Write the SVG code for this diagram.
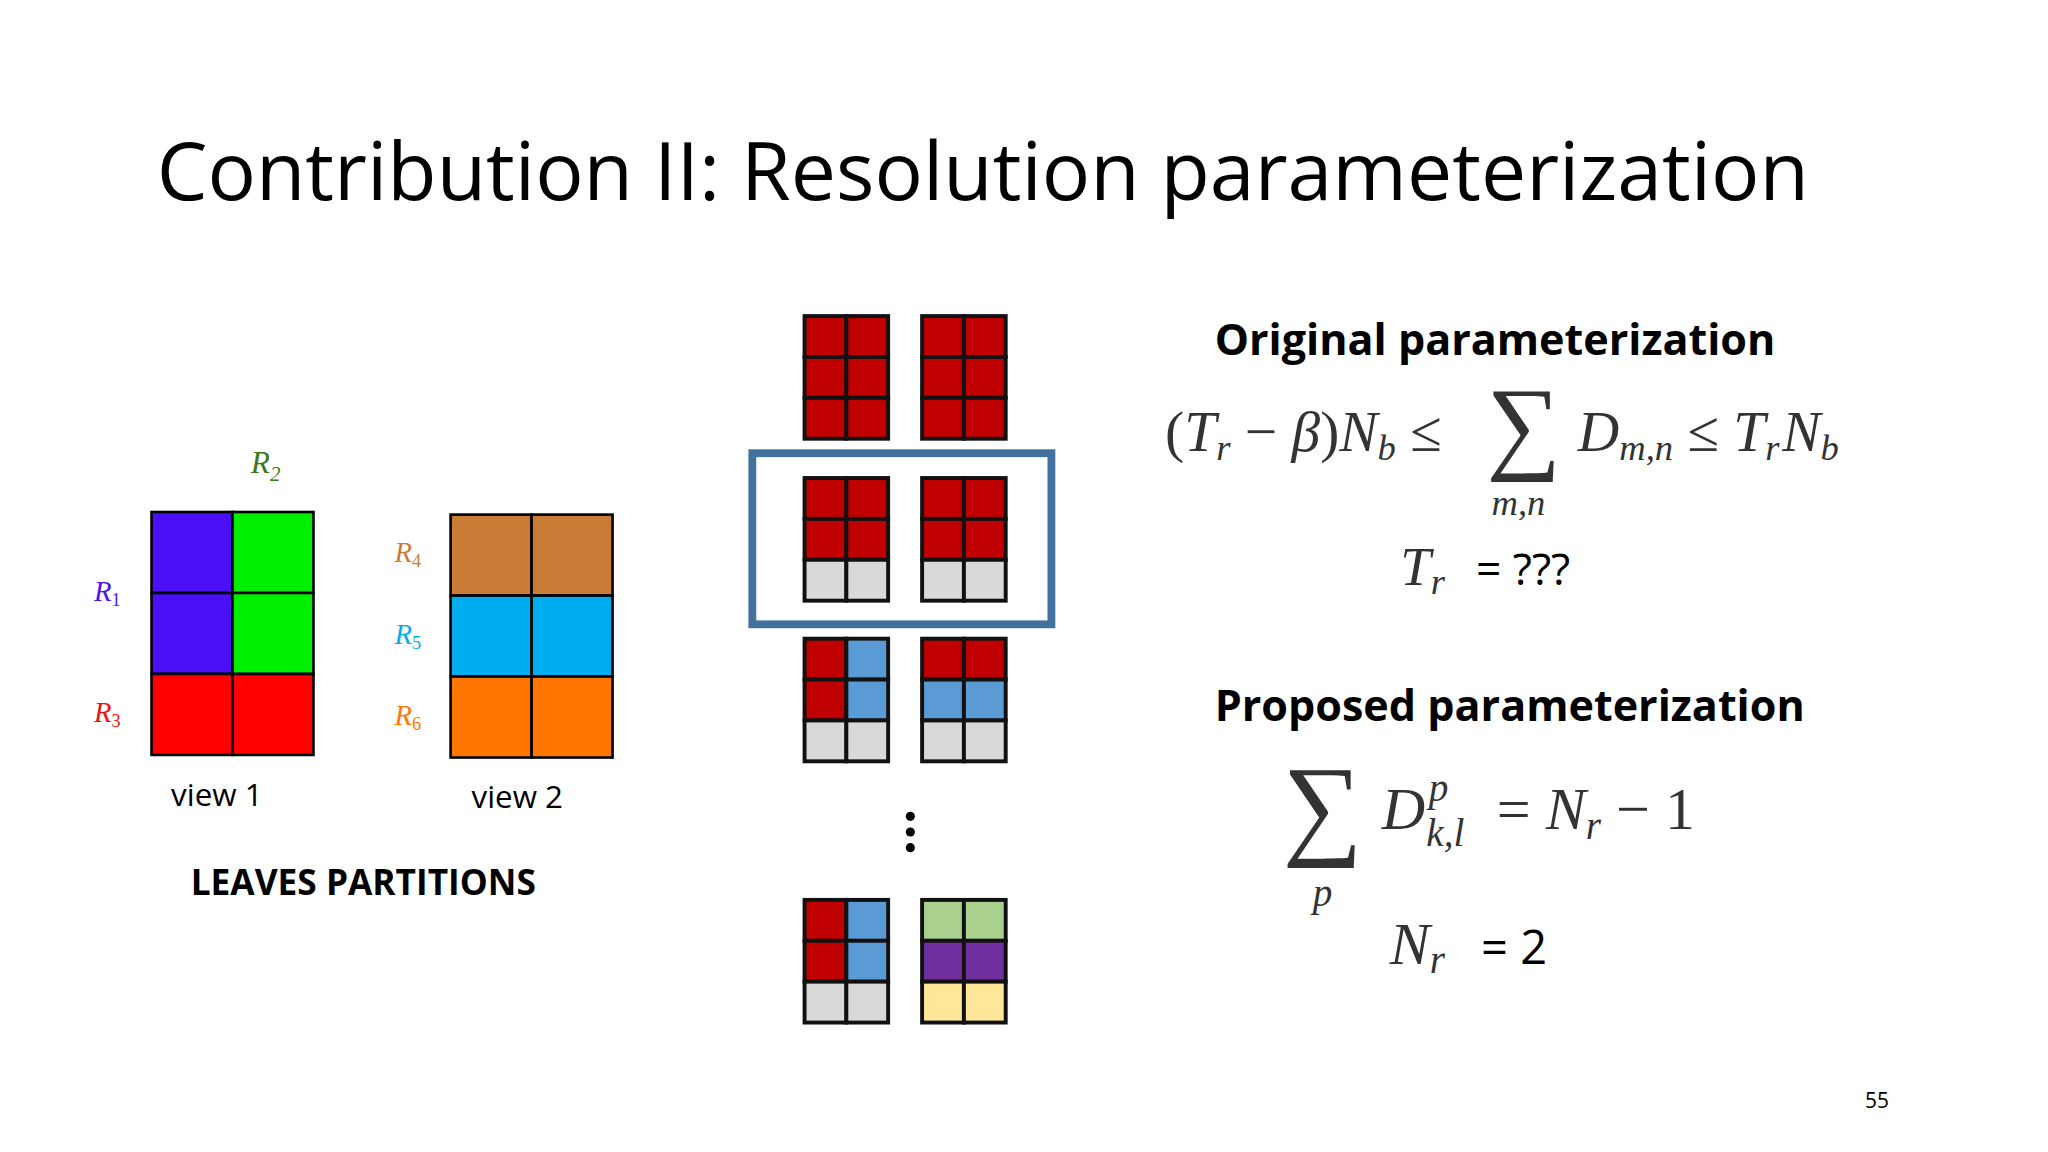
<svg xmlns="http://www.w3.org/2000/svg" width="2048" height="1152" viewBox="0 0 2048 1152">
<style>
.m{font-family:"Liberation Serif",serif;font-style:italic;fill:#333}
.u{font-family:"Liberation Serif",serif;fill:#333}
.s{font-family:"Open Sans","Liberation Sans",sans-serif;fill:#000}
.b{font-family:"Open Sans","Liberation Sans",sans-serif;font-weight:bold;fill:#000}
.c rect{stroke:#000;stroke-width:2}
.g rect{stroke:#111;stroke-width:3}
</style>
<rect width="2048" height="1152" fill="#fff"/>
<g transform="scale(1.3061)">
<text id="title" class="s" x="120" y="153" font-size="61.7">Contribution II: Resolution parameterization</text>
<g id="view1" class="c">
<rect x="116" y="392" width="62" height="62" fill="#4b10f5"/><rect x="178" y="392" width="62" height="62" fill="#00ee00"/>
<rect x="116" y="454" width="62" height="62" fill="#4b10f5"/><rect x="178" y="454" width="62" height="62" fill="#00ee00"/>
<rect x="116" y="516" width="62" height="62" fill="#ff0000"/><rect x="178" y="516" width="62" height="62" fill="#ff0000"/>
<text class="m" x="72" y="460" font-size="22" style="fill:#4b10f5">R<tspan font-size="14" dy="4" font-style="normal">1</tspan></text>
<text class="m" x="192" y="362" font-size="24" style="fill:#3a7a1a">R<tspan font-size="16" dy="6">2</tspan></text>
<text class="m" x="72" y="553" font-size="22" style="fill:#ee1111">R<tspan font-size="14" dy="4" font-style="normal">3</tspan></text>
<text class="s" x="131" y="617" font-size="24">view 1</text>
</g>
<g id="view2" class="c">
<rect x="345" y="394" width="62" height="62" fill="#c97c35"/><rect x="407" y="394" width="62" height="62" fill="#c97c35"/>
<rect x="345" y="456" width="62" height="62" fill="#00aeef"/><rect x="407" y="456" width="62" height="62" fill="#00aeef"/>
<rect x="345" y="518" width="62" height="62" fill="#ff7700"/><rect x="407" y="518" width="62" height="62" fill="#ff7700"/>
<text class="m" x="302" y="430" font-size="22" style="fill:#c97c35">R<tspan font-size="14" dy="4" font-style="normal">4</tspan></text>
<text class="m" x="302" y="493" font-size="22" style="fill:#00aeef">R<tspan font-size="14" dy="4" font-style="normal">5</tspan></text>
<text class="m" x="302" y="555" font-size="22" style="fill:#ff7700">R<tspan font-size="14" dy="4" font-style="normal">6</tspan></text>
<text class="s" x="361" y="619" font-size="24">view 2</text>
</g>
<text id="leaves" class="b" x="146" y="685" font-size="27">LEAVES PARTITIONS</text>
<g id="grids" class="g">
<g fill="#c00000"><rect x="616" y="242" width="32" height="31.3"/><rect x="648" y="242" width="32" height="31.3"/><rect x="616" y="273.3" width="32" height="31.3"/><rect x="648" y="273.3" width="32" height="31.3"/><rect x="616" y="304.6" width="32" height="31.3"/><rect x="648" y="304.6" width="32" height="31.3"/>
<rect x="706" y="242" width="32" height="31.3"/><rect x="738" y="242" width="32" height="31.3"/><rect x="706" y="273.3" width="32" height="31.3"/><rect x="738" y="273.3" width="32" height="31.3"/><rect x="706" y="304.6" width="32" height="31.3"/><rect x="738" y="304.6" width="32" height="31.3"/></g>
<g fill="#c00000"><rect x="616" y="366" width="32" height="31.3"/><rect x="648" y="366" width="32" height="31.3"/><rect x="616" y="397.3" width="32" height="31.3"/><rect x="648" y="397.3" width="32" height="31.3"/>
<rect x="706" y="366" width="32" height="31.3"/><rect x="738" y="366" width="32" height="31.3"/><rect x="706" y="397.3" width="32" height="31.3"/><rect x="738" y="397.3" width="32" height="31.3"/></g>
<g fill="#d9d9d9"><rect x="616" y="428.6" width="32" height="31.3"/><rect x="648" y="428.6" width="32" height="31.3"/><rect x="706" y="428.6" width="32" height="31.3"/><rect x="738" y="428.6" width="32" height="31.3"/></g>
<rect x="616" y="489" width="32" height="31.3" fill="#c00000"/><rect x="648" y="489" width="32" height="31.3" fill="#5b9bd5"/>
<rect x="616" y="520.3" width="32" height="31.3" fill="#c00000"/><rect x="648" y="520.3" width="32" height="31.3" fill="#5b9bd5"/>
<rect x="616" y="551.6" width="32" height="31.3" fill="#d9d9d9"/><rect x="648" y="551.6" width="32" height="31.3" fill="#d9d9d9"/>
<rect x="706" y="489" width="32" height="31.3" fill="#c00000"/><rect x="738" y="489" width="32" height="31.3" fill="#c00000"/>
<rect x="706" y="520.3" width="32" height="31.3" fill="#5b9bd5"/><rect x="738" y="520.3" width="32" height="31.3" fill="#5b9bd5"/>
<rect x="706" y="551.6" width="32" height="31.3" fill="#d9d9d9"/><rect x="738" y="551.6" width="32" height="31.3" fill="#d9d9d9"/>
<rect x="616" y="689" width="32" height="31.3" fill="#c00000"/><rect x="648" y="689" width="32" height="31.3" fill="#5b9bd5"/>
<rect x="616" y="720.3" width="32" height="31.3" fill="#c00000"/><rect x="648" y="720.3" width="32" height="31.3" fill="#5b9bd5"/>
<rect x="616" y="751.6" width="32" height="31.3" fill="#d9d9d9"/><rect x="648" y="751.6" width="32" height="31.3" fill="#d9d9d9"/>
<rect x="706" y="689" width="32" height="31.3" fill="#a9d08e"/><rect x="738" y="689" width="32" height="31.3" fill="#a9d08e"/>
<rect x="706" y="720.3" width="32" height="31.3" fill="#7030a0"/><rect x="738" y="720.3" width="32" height="31.3" fill="#7030a0"/>
<rect x="706" y="751.6" width="32" height="31.3" fill="#ffe699"/><rect x="738" y="751.6" width="32" height="31.3" fill="#ffe699"/>
</g>
<rect id="highlight" x="576" y="347" width="229" height="131" fill="none" stroke="#41719c" stroke-width="6"/>
<g id="dots" fill="#000"><circle cx="697" cy="625" r="3.5"/><circle cx="697" cy="637" r="3.5"/><circle cx="697" cy="649" r="3.5"/></g>
<text id="orig" class="b" x="930" y="272" font-size="33">Original parameterization</text>
<g id="f1">
<text class="u" x="892" y="345" font-size="44">(<tspan font-style="italic">T</tspan><tspan font-style="italic" font-size="28" dy="7">r</tspan><tspan dy="-7"> − </tspan><tspan font-style="italic">β</tspan>)<tspan font-style="italic">N</tspan><tspan font-style="italic" font-size="28" dy="7">b</tspan><tspan dy="-7"> ≤</tspan></text>
<text class="u" x="1138" y="352" font-size="80">∑</text>
<text class="m" x="1142" y="394" font-size="28">m,n</text>
<text class="u" x="1208" y="345" font-size="44"><tspan font-style="italic">D</tspan><tspan font-style="italic" font-size="28" dy="7">m,n</tspan><tspan dy="-7"> ≤ </tspan><tspan font-style="italic">T</tspan><tspan font-style="italic" font-size="28" dy="7">r</tspan><tspan font-style="italic" dy="-7" dx="2">N</tspan><tspan font-style="italic" font-size="28" dy="7">b</tspan></text>
</g>
<g id="tr"><text class="m" x="1072" y="448" font-size="42">T<tspan font-size="28" dy="7">r</tspan></text><text class="s" x="1130" y="448" font-size="34">= ???</text></g>
<text id="prop" class="b" x="930" y="552" font-size="33">Proposed parameterization</text>
<g id="f2">
<text class="u" x="982" y="646" font-size="86">∑</text>
<text class="m" x="1005" y="694" font-size="30">p</text>
<text class="u" x="1058" y="635" font-size="46" font-style="italic">D</text>
<text class="m" x="1094" y="613" font-size="30">p</text>
<text class="m" x="1092" y="648" font-size="30">k,l</text>
<text class="u" x="1146" y="635" font-size="46">= <tspan font-style="italic">N</tspan><tspan font-style="italic" font-size="30" dy="7">r</tspan><tspan dy="-7"> − 1</tspan></text>
</g>
<g id="nr"><text class="m" x="1064" y="738" font-size="46">N<tspan font-size="30" dy="7">r</tspan></text><text class="s" x="1134" y="738" font-size="36">= 2</text></g>
<text id="page" class="s" x="1428" y="848" font-size="16">55</text>
</g>
</svg>
